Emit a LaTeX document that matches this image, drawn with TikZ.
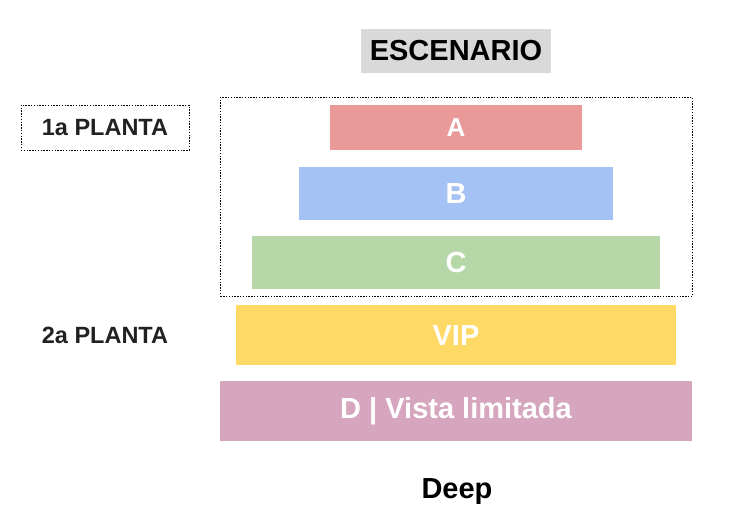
\documentclass[tikz,border=0pt]{standalone}
\usepackage{fontspec}
\setmainfont{Liberation Sans}
\usetikzlibrary{positioning}
\definecolor{escgray}{HTML}{D9D9D9}
\definecolor{rowA}{HTML}{EA9999}
\definecolor{rowB}{HTML}{A4C2F4}
\definecolor{rowC}{HTML}{B6D7A8}
\definecolor{rowVIP}{HTML}{FFD966}
\definecolor{rowD}{HTML}{D5A6BD}
\begin{document}
\begin{tikzpicture}[x=1pt,y=-1pt,
        seat/.style={inner sep=0pt,align=center,text=white,font=\bfseries\fontsize{29}{31}\selectfont},
        plabel/.style={inner sep=0pt,align=center,text=black!87,font=\bfseries\fontsize{23.5}{25}\selectfont},
        dotbox/.style={draw,dash pattern=on 1.4pt off 1.4pt,line width=0.9pt}]
        \useasboundingbox (0,0) rectangle (744,515);
        \node[dotbox, minimum width=472pt, minimum height=199pt, anchor=north west] (floor1) at (220,97) {};
        \node[seat, fill=escgray, text=black, minimum width=190pt, minimum height=44pt] (esc) at (456,51) {ESCENARIO};
        \node[seat, fill=rowA, minimum width=252pt, minimum height=45pt, anchor=north, font=\bfseries\fontsize{26}{28}\selectfont] (A) at (456,105) {A};
        \node[seat, fill=rowB, minimum width=314pt, minimum height=53pt, below=16pt of A] (B) {B};
        \node[seat, fill=rowC, minimum width=408pt, minimum height=53pt, below=16pt of B] (C) {C};
        \node[seat, fill=rowVIP, minimum width=440pt, minimum height=60pt, below=16pt of C] (vip) {VIP};
        \node[seat, fill=rowD, minimum width=472pt, minimum height=60pt, below=15pt of vip] (D) {D | Vista limitada};
        \node[seat, text=black] (deep) at (457,492) {Deep};
        \node[plabel, dotbox, minimum width=168pt, minimum height=45pt] (pl1) at (105,127.5) {1a PLANTA};
        \node[plabel] (pl2) at (pl1 |- vip) {2a PLANTA};
        \end{tikzpicture}
\end{document}
